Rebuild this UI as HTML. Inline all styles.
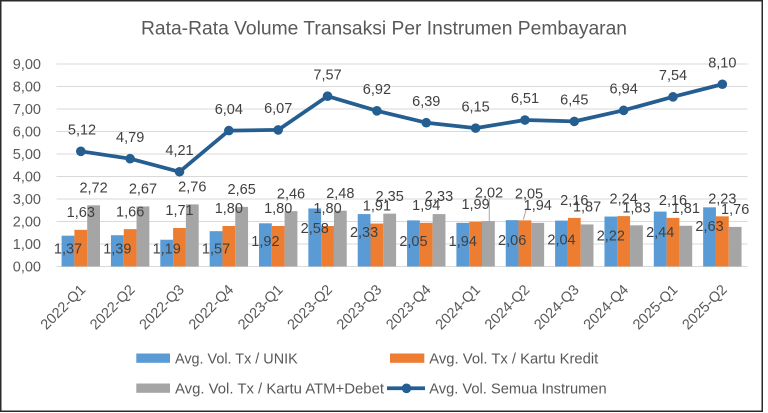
<!DOCTYPE html>
<html>
<head>
<meta charset="utf-8">
<style>
html,body{margin:0;padding:0;background:#fff;}
svg{display:block;}
text{font-family:"Liberation Sans",sans-serif;}
</style>
</head>
<body>
<svg width="768" height="413" viewBox="0 0 768 413" xmlns="http://www.w3.org/2000/svg">
<rect x="0" y="0" width="768" height="413" fill="#fff"/>
<rect x="0.75" y="0.75" width="761.5" height="410.5" fill="#fff" stroke="#2b2b2b" stroke-width="1.5"/>

<text x="384" y="34.5" font-size="19" fill="#595959" text-anchor="middle" textLength="486" lengthAdjust="spacingAndGlyphs">Rata-Rata Volume Transaksi Per Instrumen Pembayaran</text>

<!-- gridlines -->
<g stroke="#D9D9D9" stroke-width="1">
<line x1="56.5" x2="747.5" y1="64" y2="64"/>
<line x1="56.5" x2="747.5" y1="86.5" y2="86.5"/>
<line x1="56.5" x2="747.5" y1="109" y2="109"/>
<line x1="56.5" x2="747.5" y1="131.5" y2="131.5"/>
<line x1="56.5" x2="747.5" y1="154" y2="154"/>
<line x1="56.5" x2="747.5" y1="176.5" y2="176.5"/>
<line x1="56.5" x2="747.5" y1="199" y2="199"/>
<line x1="56.5" x2="747.5" y1="221.5" y2="221.5"/>
<line x1="56.5" x2="747.5" y1="244" y2="244"/>
<line x1="56.5" x2="747.5" y1="266.5" y2="266.5"/>
</g>

<!-- y axis labels -->
<g font-size="14.5" fill="#595959" text-anchor="end">
<text x="41" y="69">9,00</text>
<text x="41" y="91.5">8,00</text>
<text x="41" y="114">7,00</text>
<text x="41" y="136.5">6,00</text>
<text x="41" y="159">5,00</text>
<text x="41" y="181.5">4,00</text>
<text x="41" y="204">3,00</text>
<text x="41" y="226.5">2,00</text>
<text x="41" y="249">1,00</text>
<text x="41" y="271.5">0,00</text>
</g>

<!-- blue bars -->
<g fill="#5B9BD5">
<rect x="61.6" y="235.675" width="12.8" height="30.825"/>
<rect x="110.95" y="235.225" width="12.8" height="31.275"/>
<rect x="160.3" y="239.725" width="12.8" height="26.775"/>
<rect x="209.65" y="231.175" width="12.8" height="35.325"/>
<rect x="259" y="223.3" width="12.8" height="43.2"/>
<rect x="308.35" y="208.45" width="12.8" height="58.05"/>
<rect x="357.7" y="214.075" width="12.8" height="52.425"/>
<rect x="407.05" y="220.375" width="12.8" height="46.125"/>
<rect x="456.4" y="222.85" width="12.8" height="43.65"/>
<rect x="505.75" y="220.15" width="12.8" height="46.35"/>
<rect x="555.1" y="220.6" width="12.8" height="45.9"/>
<rect x="604.45" y="216.55" width="12.8" height="49.95"/>
<rect x="653.8" y="211.6" width="12.8" height="54.9"/>
<rect x="703.15" y="207.325" width="12.8" height="59.175"/>
</g>
<!-- orange bars -->
<g fill="#ED7D31">
<rect x="74.4" y="229.825" width="12.8" height="36.675"/>
<rect x="123.75" y="229.15" width="12.8" height="37.35"/>
<rect x="173.1" y="228.025" width="12.8" height="38.475"/>
<rect x="222.45" y="226" width="12.8" height="40.5"/>
<rect x="271.8" y="226" width="12.8" height="40.5"/>
<rect x="321.15" y="226" width="12.8" height="40.5"/>
<rect x="370.5" y="223.525" width="12.8" height="42.975"/>
<rect x="419.85" y="222.85" width="12.8" height="43.65"/>
<rect x="469.2" y="221.725" width="12.8" height="44.775"/>
<rect x="518.55" y="220.375" width="12.8" height="46.125"/>
<rect x="567.9" y="217.9" width="12.8" height="48.6"/>
<rect x="617.25" y="216.1" width="12.8" height="50.4"/>
<rect x="666.6" y="217.9" width="12.8" height="48.6"/>
<rect x="715.95" y="216.325" width="12.8" height="50.175"/>
</g>
<!-- gray bars -->
<g fill="#A5A5A5">
<rect x="87.2" y="205.3" width="12.8" height="61.2"/>
<rect x="136.55" y="206.425" width="12.8" height="60.075"/>
<rect x="185.9" y="204.4" width="12.8" height="62.1"/>
<rect x="235.25" y="206.875" width="12.8" height="59.625"/>
<rect x="284.6" y="211.15" width="12.8" height="55.35"/>
<rect x="333.95" y="210.7" width="12.8" height="55.8"/>
<rect x="383.3" y="213.625" width="12.8" height="52.875"/>
<rect x="432.65" y="214.075" width="12.8" height="52.425"/>
<rect x="482" y="221.05" width="12.8" height="45.45"/>
<rect x="531.35" y="222.85" width="12.8" height="43.65"/>
<rect x="580.7" y="224.425" width="12.8" height="42.075"/>
<rect x="630.05" y="225.325" width="12.8" height="41.175"/>
<rect x="679.4" y="225.775" width="12.8" height="40.725"/>
<rect x="728.75" y="226.9" width="12.8" height="39.6"/>
</g>

<!-- leader lines -->
<g stroke="#A6A6A6" stroke-width="1">
<line x1="489.3" y1="198" x2="489.3" y2="221"/>
<line x1="526.7" y1="208" x2="523.3" y2="219.5"/>
</g>

<!-- bar labels -->
<g font-size="14.5" fill="#404040" text-anchor="middle">
<!-- blue -->
<text x="68" y="253.5">1,37</text>
<text x="117.35" y="253.5">1,39</text>
<text x="166.7" y="253.5">1,19</text>
<text x="216.05" y="253.5">1,57</text>
<text x="265.4" y="246.2">1,92</text>
<text x="314.75" y="233.2">2,58</text>
<text x="364.1" y="236.9">2,33</text>
<text x="413.45" y="246.2">2,05</text>
<text x="462.8" y="246.2">1,94</text>
<text x="512.15" y="245.2">2,06</text>
<text x="561.5" y="244.5">2,04</text>
<text x="610.85" y="240.5">2,22</text>
<text x="660.2" y="236.9">2,44</text>
<text x="709.55" y="231.2">2,63</text>
<!-- orange -->
<text x="80.8" y="217">1,63</text>
<text x="130.15" y="216.4">1,66</text>
<text x="179.5" y="215.2">1,71</text>
<text x="228.85" y="213.2">1,80</text>
<text x="278.2" y="213.2">1,80</text>
<text x="327.55" y="213.2">1,80</text>
<text x="376.9" y="210.7">1,91</text>
<text x="426.25" y="210">1,94</text>
<text x="475.6" y="208.9">1,99</text>
<text x="529" y="198.5">2,05</text>
<text x="574.3" y="205.1">2,16</text>
<text x="623.65" y="203.3">2,24</text>
<text x="673" y="205.1">2,16</text>
<text x="722.35" y="203.5">2,23</text>
<!-- gray -->
<text x="93.6" y="192.5">2,72</text>
<text x="142.95" y="193.6">2,67</text>
<text x="192.3" y="191.6">2,76</text>
<text x="241.65" y="194">2,65</text>
<text x="291" y="198.3">2,46</text>
<text x="340.35" y="197.9">2,48</text>
<text x="389.7" y="200.8">2,35</text>
<text x="439.05" y="201.2">2,33</text>
<text x="489" y="197.5">2,02</text>
<text x="537.75" y="210">1,94</text>
<text x="587.1" y="211.6">1,87</text>
<text x="636.45" y="212.5">1,83</text>
<text x="685.8" y="212.9">1,81</text>
<text x="735.15" y="214.1">1,76</text>
</g>

<!-- line series -->
<polyline fill="none" stroke="#255E91" stroke-width="3.75" stroke-linejoin="round" stroke-linecap="round"
points="80.8,151.3 130.15,158.725 179.5,171.775 228.85,130.6 278.2,129.925 327.55,96.175 376.9,110.8 426.25,122.725 475.6,128.125 524.95,120.025 574.3,121.375 623.65,110.35 673,96.85 722.35,84.25"/>
<g fill="#255E91">
<circle cx="80.8" cy="151.3" r="4.8"/>
<circle cx="130.15" cy="158.725" r="4.8"/>
<circle cx="179.5" cy="171.775" r="4.8"/>
<circle cx="228.85" cy="130.6" r="4.8"/>
<circle cx="278.2" cy="129.925" r="4.8"/>
<circle cx="327.55" cy="96.175" r="4.8"/>
<circle cx="376.9" cy="110.8" r="4.8"/>
<circle cx="426.25" cy="122.725" r="4.8"/>
<circle cx="475.6" cy="128.125" r="4.8"/>
<circle cx="524.95" cy="120.025" r="4.8"/>
<circle cx="574.3" cy="121.375" r="4.8"/>
<circle cx="623.65" cy="110.35" r="4.8"/>
<circle cx="673" cy="96.85" r="4.8"/>
<circle cx="722.35" cy="84.25" r="4.8"/>
</g>

<!-- line labels -->
<g font-size="14.5" fill="#404040" text-anchor="middle">
<text x="82" y="134.5">5,12</text>
<text x="130.15" y="141.9">4,79</text>
<text x="179.5" y="155">4,21</text>
<text x="228.85" y="113.8">6,04</text>
<text x="278.2" y="113.1">6,07</text>
<text x="327.55" y="79.4">7,57</text>
<text x="376.9" y="94">6,92</text>
<text x="426.25" y="105.9">6,39</text>
<text x="475.6" y="111.3">6,15</text>
<text x="524.95" y="103.2">6,51</text>
<text x="574.3" y="104.6">6,45</text>
<text x="623.65" y="93.5">6,94</text>
<text x="673" y="80">7,54</text>
<text x="722.35" y="67.4">8,10</text>
</g>

<!-- x axis labels -->
<g font-size="14.5" fill="#595959" text-anchor="end">
<text transform="translate(86.3,290.5) rotate(-45)">2022-Q1</text>
<text transform="translate(135.65,290.5) rotate(-45)">2022-Q2</text>
<text transform="translate(185,290.5) rotate(-45)">2022-Q3</text>
<text transform="translate(234.35,290.5) rotate(-45)">2022-Q4</text>
<text transform="translate(283.7,290.5) rotate(-45)">2023-Q1</text>
<text transform="translate(333.05,290.5) rotate(-45)">2023-Q2</text>
<text transform="translate(382.4,290.5) rotate(-45)">2023-Q3</text>
<text transform="translate(431.75,290.5) rotate(-45)">2023-Q4</text>
<text transform="translate(481.1,290.5) rotate(-45)">2024-Q1</text>
<text transform="translate(530.45,290.5) rotate(-45)">2024-Q2</text>
<text transform="translate(579.8,290.5) rotate(-45)">2024-Q3</text>
<text transform="translate(629.15,290.5) rotate(-45)">2024-Q4</text>
<text transform="translate(678.5,290.5) rotate(-45)">2025-Q1</text>
<text transform="translate(727.85,290.5) rotate(-45)">2025-Q2</text>
</g>

<!-- legend -->
<rect x="136.3" y="353.5" width="33.7" height="9.3" fill="#5B9BD5"/>
<text x="175" y="363.3" font-size="14.5" fill="#595959" textLength="122.7" lengthAdjust="spacingAndGlyphs">Avg. Vol. Tx / UNIK</text>
<rect x="390" y="353.5" width="34.3" height="9.3" fill="#ED7D31"/>
<text x="429.3" y="363.3" font-size="14.5" fill="#595959" textLength="169" lengthAdjust="spacingAndGlyphs">Avg. Vol. Tx / Kartu Kredit</text>
<rect x="136.3" y="383.5" width="33.7" height="9.3" fill="#A5A5A5"/>
<text x="175" y="393.3" font-size="14.5" fill="#595959" textLength="209" lengthAdjust="spacingAndGlyphs">Avg. Vol. Tx / Kartu ATM+Debet</text>
<line x1="387" y1="388.3" x2="425" y2="388.3" stroke="#255E91" stroke-width="3.75"/>
<circle cx="406.5" cy="388.3" r="4.8" fill="#255E91"/>
<text x="429.3" y="393.3" font-size="14.5" fill="#595959" textLength="177.3" lengthAdjust="spacingAndGlyphs">Avg. Vol. Semua Instrumen</text>
</svg>
</body>
</html>
